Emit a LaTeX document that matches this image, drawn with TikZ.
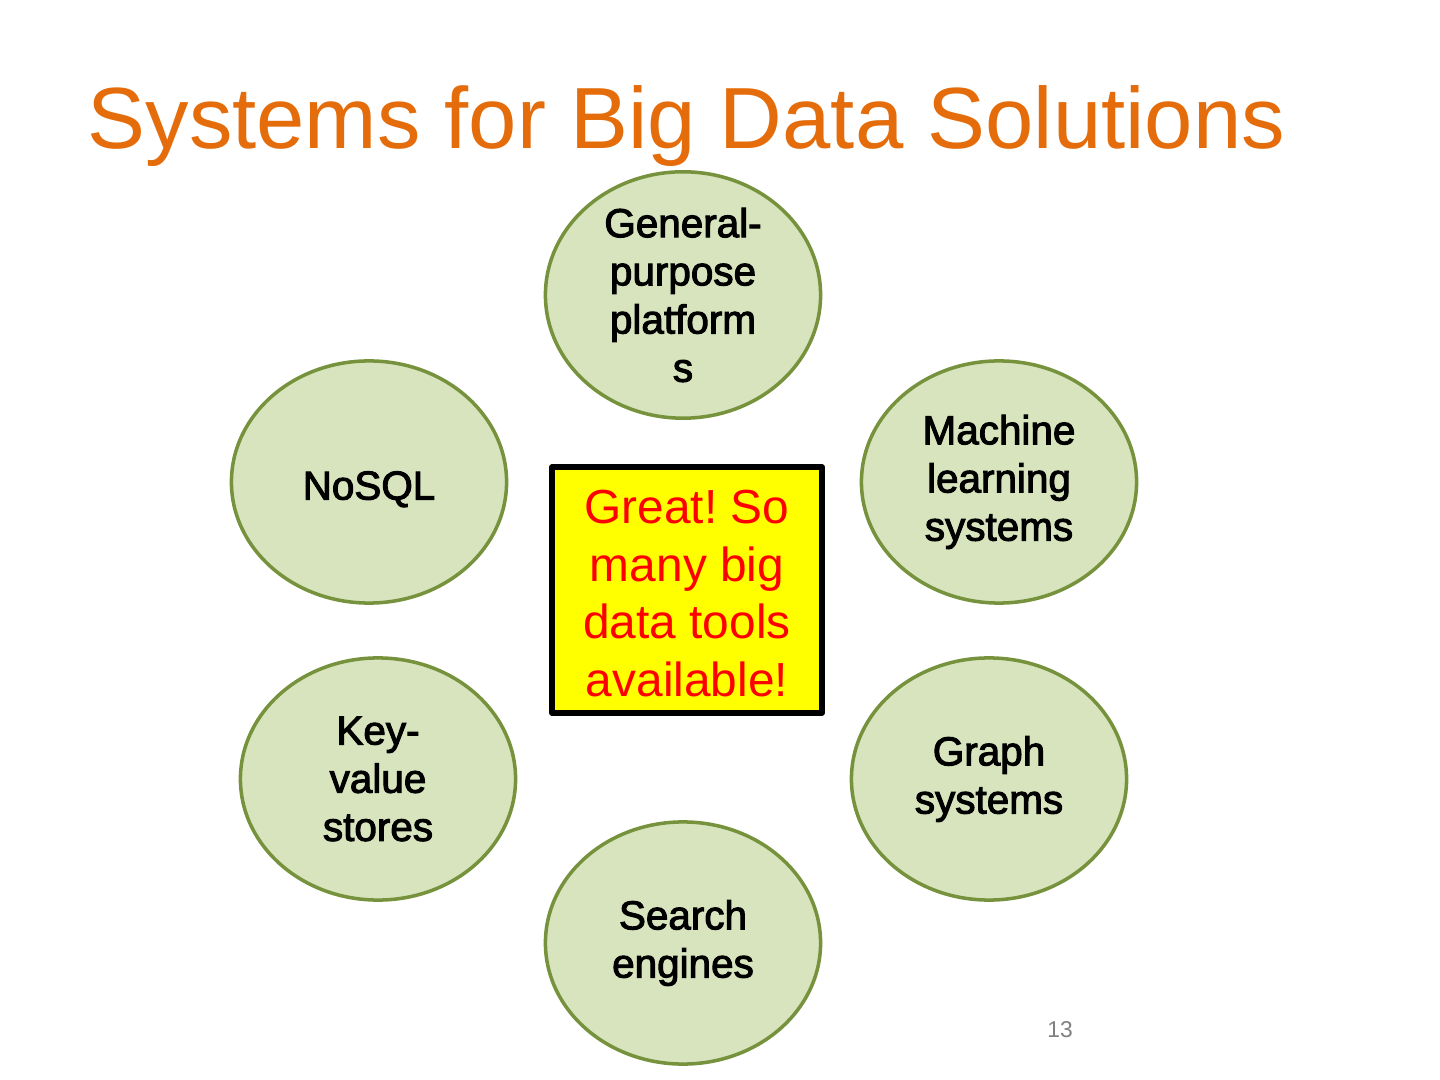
\documentclass[tikz,border=0pt]{standalone}
\usepackage{fontspec}
\setmainfont{Liberation Sans}
\newfontfamily\ovalfont[FakeBold=2.5]{Liberation Sans}
\usetikzlibrary{shapes.geometric,positioning}

\definecolor{titleorange}{RGB}{228,108,10}
\definecolor{ovalfill}{RGB}{215,228,189}
\definecolor{ovalline}{RGB}{118,146,60}
\definecolor{notered}{RGB}{255,0,0}
\definecolor{noteyellow}{RGB}{255,255,0}

\begin{document}
\frenchspacing
\begin{tikzpicture}[
    x=0.01cm, y=-0.01cm,
    system/.style={ellipse, draw=ovalline, fill=ovalfill, line width=1pt, minimum width=2.75cm, minimum height=2.42cm, inner sep=0pt, align=center, font=\ovalfont\fontsize{11.5}{13.7}\selectfont},
    note/.style={rectangle, draw=black, fill=noteyellow, line width=1.5pt, line join=round, minimum width=2.7cm, minimum height=2.46cm, inner sep=0pt, align=center, text=notered, font=\fontsize{13.6}{16.4}\selectfont},
]
\useasboundingbox (0,0) rectangle (1440,1080);

% ================== Title ==================
\node[anchor=base west, inner sep=0pt, text=titleorange, font=\fontsize{24.7}{28}\selectfont] (title) at (87,149) {Systems for Big Data Solutions};

% ================== Systems ==================
\node[system] (general) at (683,295) {General-\\purpose\\platform\\s};
\node[system] (nosql) at (369,482) {\raisebox{-5pt}[0pt][0pt]{NoSQL}};
\node[system] (ml) at (999,482) {Machine\\learning\\systems};
\node[system] (kv) at (378,779) {Key-\\value\\stores};
\node[system] (graph) at (989,779) {Graph\\systems};
\node[system] (search) at (683,943) {Search\\engines};

% ================== Note ==================
\node[note] (great) at (687,590) {\parbox{2.6cm}{\centering\vspace*{2pt}Great! So\\many big\\data tools\\available!}};

% page number
\node[text=gray, font=\fontsize{6.5}{8}\selectfont] (page) at (1060,1030) {13};

\end{tikzpicture}
\end{document}
